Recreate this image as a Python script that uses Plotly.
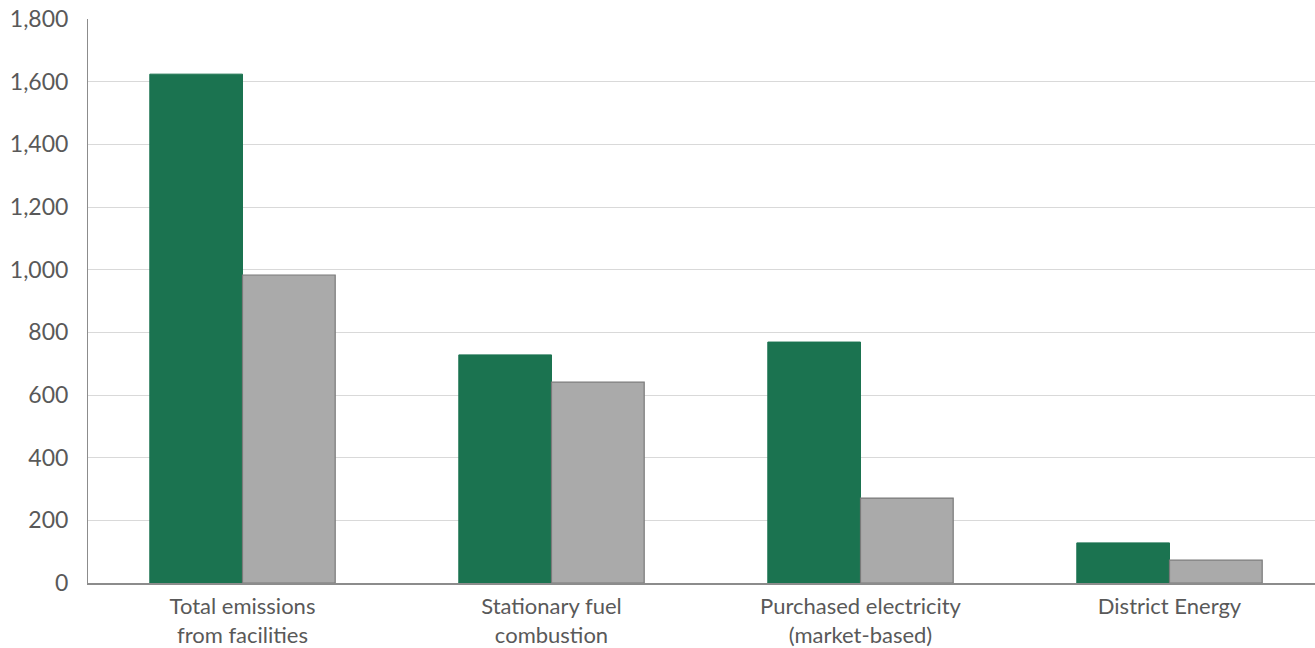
import plotly.graph_objects as go

categories = ["Total emissions<br>from facilities", "Stationary fuel<br>combustion",
              "Purchased electricity<br>(market-based)", "District Energy"]
series_a = [1624, 728, 769, 128]
series_b = [983, 641, 271, 73]
y_ticks = [0, 200, 400, 600, 800, 1000, 1200, 1400, 1600, 1800]
y_tick_labels = ["0", "200", "400", "600", "800", "1,000", "1,200", "1,400", "1,600", "1,800"]

fig = go.Figure()
fig.add_bar(x=list(range(len(categories))), y=series_a, name="A",
            marker=dict(color="#1b7350", line=dict(color="#1b7350", width=1)))
fig.add_bar(x=list(range(len(categories))), y=series_b, name="B",
            marker=dict(color="#aaaaaa", line=dict(color="#7a7a7a", width=1.2)))

W, H = 1315, 648
ml, mr, mt, mb = 88, 0, 19, 65
group_px = 309
xmax = -0.5 + (W - ml - mr) / group_px

fig.update_layout(
    width=W, height=H,
    margin=dict(l=ml, r=mr, t=mt, b=mb),
    paper_bgcolor="white", plot_bgcolor="white",
    barmode="group", bargap=0.4, bargroupgap=0,
    showlegend=False,
    font=dict(family="Lato, Open Sans, sans-serif", size=23, color="#595959"),
    xaxis=dict(range=[-0.5, xmax], tickmode="array",
               tickvals=list(range(len(categories))), ticktext=categories,
               tickfont=dict(size=22),
               showgrid=False, showline=True, linecolor="#8c8c8c", linewidth=1.5,
               ticks="", ticklabelstandoff=3, fixedrange=True, automargin=False),
    yaxis=dict(range=[0, 1800], tickmode="array", tickvals=y_ticks, ticktext=y_tick_labels,
               showgrid=True, gridcolor="#d9d9d9", gridwidth=1.3,
               showline=True, linecolor="#8c8c8c", linewidth=1,
               zeroline=False, ticks="", ticklabelstandoff=14, fixedrange=True,
               automargin=False),
    hovermode=False,
)

fig.write_html("out.html")
